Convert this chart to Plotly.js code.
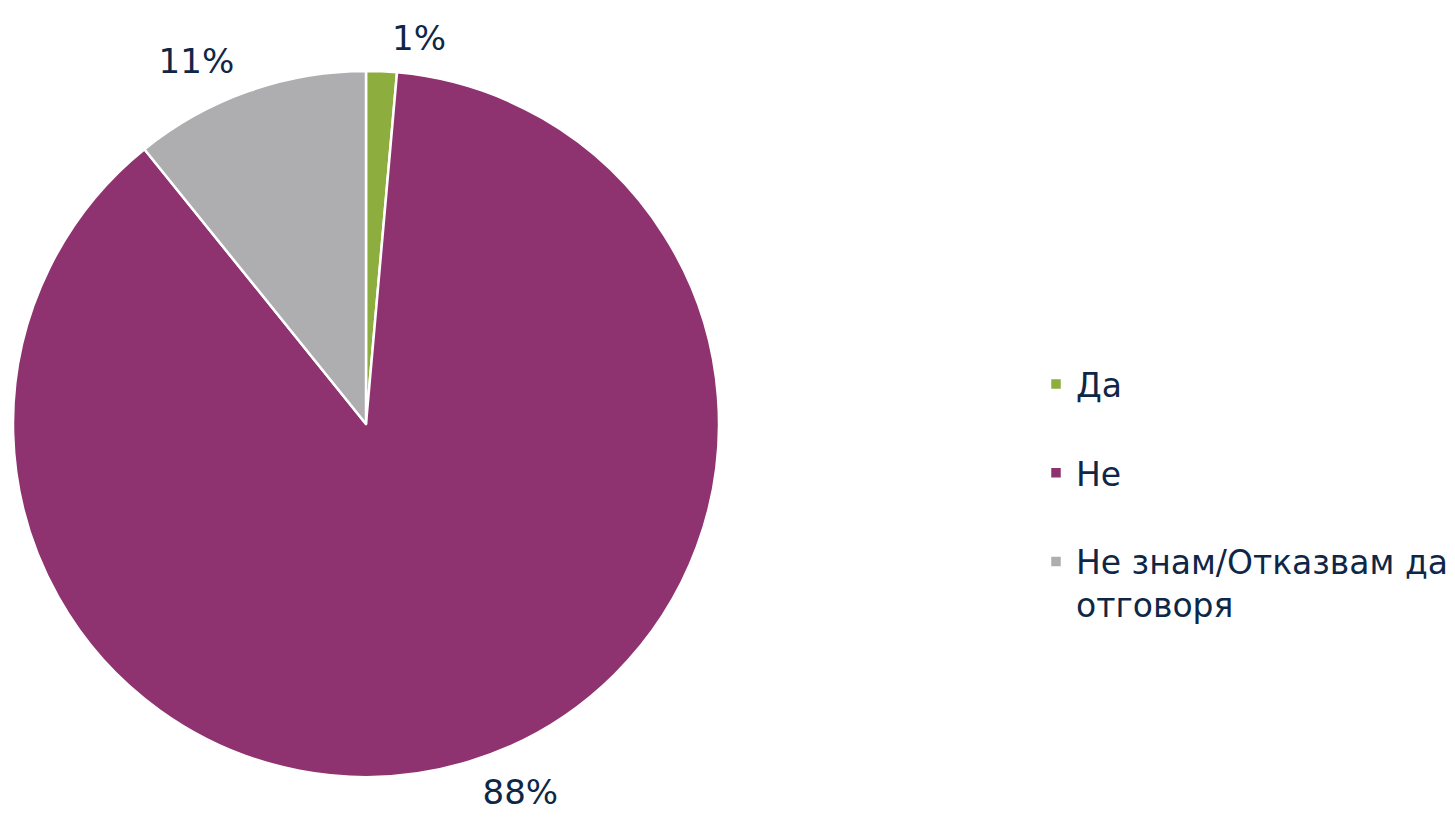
<!DOCTYPE html>
<html>
<head>
<meta charset="utf-8">
<script src="https://cdn.plot.ly/plotly-3.0.1.min.js"></script>
<style>html,body{margin:0;padding:0;background:#fff;}#chart{width:1455px;height:825px;}</style>
</head>
<body>
<div id="chart"></div>
<script>
const categories = ["Да", "Не", "Не знам/Отказвам да<br>отговоря"];
const values = [1.4, 87.8, 10.8];
const colors = ["#8DAE3F", "#8E336F", "#AEAEB0"];
const legendLabels = ["Да<br> ", "Не<br> ", "Не знам/Отказвам да<br>отговоря"];

const pieTrace = {
  type: "pie",
  labels: legendLabels,
  values: values,
  sort: false,
  direction: "clockwise",
  rotation: 0,
  marker: {colors: colors, line: {color: "#FFFFFF", width: 2.5}},
  textinfo: "none",
  hoverinfo: "label+percent",
  domain: {x: [13/1455, 719/1455], y: [1 - 777/825, 1 - 71/825]},
  automargin: false
};

// transparent copy, slightly larger, only to carry the outside percentage labels
const labelTrace = {
  type: "pie",
  labels: legendLabels,
  values: values,
  sort: false,
  direction: "clockwise",
  rotation: 0,
  showlegend: false,
  marker: {colors: ["rgba(0,0,0,0)", "rgba(0,0,0,0)", "rgba(0,0,0,0)"], line: {width: 0}},
  textposition: "outside",
  texttemplate: "%{percent:.0%}",
  textfont: {family: "DejaVu Sans", size: 34, color: "#0F2747"},
  hoverinfo: "skip",
  domain: {x: [0, 732/1455], y: [1 - 804/825, 1 - 44/825]},
  automargin: false
};

const layout = {
  width: 1455, height: 825,
  margin: {l: 0, r: 0, t: 0, b: 0},
  paper_bgcolor: "#FFFFFF",
  showlegend: true,
  legend: {
    x: 1036/1455, y: 1 - 356/825, xanchor: "left", yanchor: "top",
    valign: "top",
    font: {family: "DejaVu Sans", size: 33, color: "#0F2747"},
    bgcolor: "rgba(0,0,0,0)"
  }
};

Plotly.newPlot("chart", [pieTrace, labelTrace], layout, {displayModeBar: false, staticPlot: true});
</script>
</body>
</html>
